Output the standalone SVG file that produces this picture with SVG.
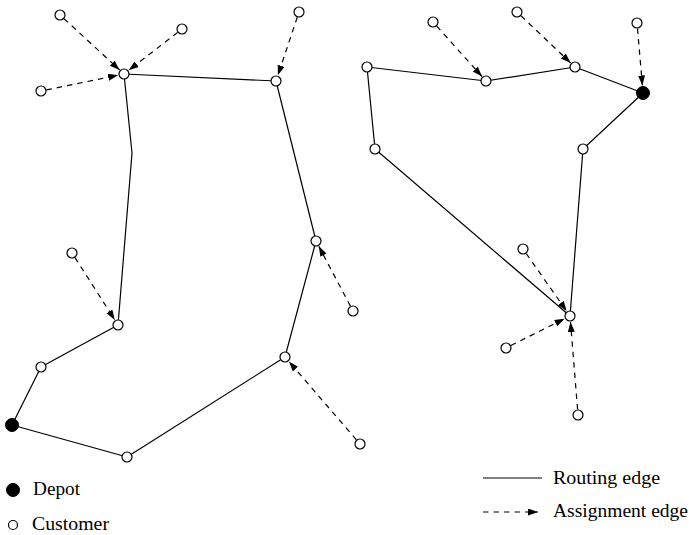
<svg xmlns="http://www.w3.org/2000/svg" width="689" height="535" viewBox="0 0 689 535">
  <defs>
    <marker id="arrow" markerUnits="userSpaceOnUse" markerWidth="10" markerHeight="8" refX="10" refY="3.5" orient="auto">
      <path d="M0,0 L10,3.5 L0,7 z" fill="#000"/>
    </marker>
  </defs>
  <style>
    .route { fill: none; stroke: #000; stroke-width: 1.2; stroke-linejoin: round; }
    .assign { fill: none; stroke: #000; stroke-width: 1.2; stroke-dasharray: 5.5 5; marker-end: url(#arrow); }
    .customer { fill: #fff; stroke: #000; stroke-width: 1.2; }
    .depot { fill: #000; stroke: #000; stroke-width: 1; }
    .label { font-family: "Liberation Serif", "DejaVu Serif", serif; font-size: 19px; fill: #000; }
  </style>
  <rect width="689" height="535" fill="#fff"/>

  <!-- connectors: routing tours and assignment edges -->
  <g id="connectors">
    <polyline class="route" points="12,425 41,367 118,325 132,153 124,74 276,81 316,241 285,357 127,457 12,425"/>
    <polyline class="route" points="367,67 486,81 575,67 643,93 583,149 570,316 375,149 367,67"/>

    <line class="assign" x1="64.0" y1="18.7" x2="119.6" y2="69.9"/>
    <line class="assign" x1="177.7" y1="32.4" x2="128.7" y2="70.3"/>
    <line class="assign" x1="46.4" y1="89.9" x2="118.1" y2="75.2"/>
    <line class="assign" x1="297.3" y1="17.2" x2="277.9" y2="75.3"/>
    <line class="assign" x1="75.0" y1="257.6" x2="114.8" y2="319.9"/>
    <line class="assign" x1="350.4" y1="306.1" x2="318.8" y2="246.3"/>
    <line class="assign" x1="356.4" y1="439.8" x2="288.9" y2="361.5"/>

    <line class="assign" x1="436.7" y1="26.1" x2="482.0" y2="76.5"/>
    <line class="assign" x1="521.0" y1="15.8" x2="570.6" y2="62.9"/>
    <line class="assign" x1="637.5" y1="28.5" x2="642.4" y2="85.5"/>
    <line class="assign" x1="526.2" y1="253.5" x2="566.6" y2="311.1"/>
    <line class="assign" x1="510.9" y1="345.5" x2="564.6" y2="318.7"/>
    <line class="assign" x1="577.6" y1="409.5" x2="570.5" y2="322"/>
  </g>

  <!-- depots -->
  <g id="depot-left"><circle class="depot" cx="12" cy="425" r="6.5"/></g>
  <g id="depot-right"><circle class="depot" cx="643" cy="93" r="6.5"/></g>

  <!-- customers on the left tour -->
  <g id="c-l1"><circle class="customer" cx="41" cy="367" r="5"/></g>
  <g id="c-l2"><circle class="customer" cx="118" cy="325" r="5"/></g>
  <g id="c-l3"><circle class="customer" cx="124" cy="74" r="5"/></g>
  <g id="c-l4"><circle class="customer" cx="276" cy="81" r="5"/></g>
  <g id="c-l5"><circle class="customer" cx="316" cy="241" r="5"/></g>
  <g id="c-l6"><circle class="customer" cx="285" cy="357" r="5"/></g>
  <g id="c-l7"><circle class="customer" cx="127" cy="457" r="5"/></g>

  <!-- customers assigned to the left tour -->
  <g id="a-l1"><circle class="customer" cx="60" cy="15" r="5"/></g>
  <g id="a-l2"><circle class="customer" cx="182" cy="29" r="5"/></g>
  <g id="a-l3"><circle class="customer" cx="41" cy="91" r="5"/></g>
  <g id="a-l4"><circle class="customer" cx="299" cy="12" r="5"/></g>
  <g id="a-l5"><circle class="customer" cx="72" cy="253" r="5"/></g>
  <g id="a-l6"><circle class="customer" cx="353" cy="311" r="5"/></g>
  <g id="a-l7"><circle class="customer" cx="360" cy="444" r="5"/></g>

  <!-- customers on the right tour -->
  <g id="c-r1"><circle class="customer" cx="367" cy="67" r="5"/></g>
  <g id="c-r2"><circle class="customer" cx="486" cy="81" r="5"/></g>
  <g id="c-r3"><circle class="customer" cx="575" cy="67" r="5"/></g>
  <g id="c-r4"><circle class="customer" cx="583" cy="149" r="5"/></g>
  <g id="c-r5"><circle class="customer" cx="570" cy="316" r="5"/></g>
  <g id="c-r6"><circle class="customer" cx="375" cy="149" r="5"/></g>

  <!-- customers assigned to the right tour -->
  <g id="a-r1"><circle class="customer" cx="433" cy="22" r="5"/></g>
  <g id="a-r2"><circle class="customer" cx="517" cy="12" r="5"/></g>
  <g id="a-r3"><circle class="customer" cx="637" cy="23" r="5"/></g>
  <g id="a-r4"><circle class="customer" cx="523" cy="249" r="5"/></g>
  <g id="a-r5"><circle class="customer" cx="506" cy="348" r="5"/></g>
  <g id="a-r6"><circle class="customer" cx="578" cy="415" r="5"/></g>

  <!-- legend -->
  <g id="legend">
    <circle class="depot" cx="13" cy="490" r="6.5"/>
    <text class="label" x="33" y="495" textLength="47" lengthAdjust="spacingAndGlyphs">Depot</text>
    <circle class="customer" cx="13" cy="525" r="4.5"/>
    <text class="label" x="32" y="530" textLength="77" lengthAdjust="spacingAndGlyphs">Customer</text>

    <line class="route" x1="483" y1="478" x2="542" y2="478"/>
    <text class="label" x="553" y="484" textLength="107" lengthAdjust="spacingAndGlyphs">Routing edge</text>
    <line class="assign" x1="483" y1="512" x2="538" y2="512"/>
    <text class="label" x="553" y="517" textLength="135" lengthAdjust="spacingAndGlyphs">Assignment edge</text>
  </g>
</svg>
